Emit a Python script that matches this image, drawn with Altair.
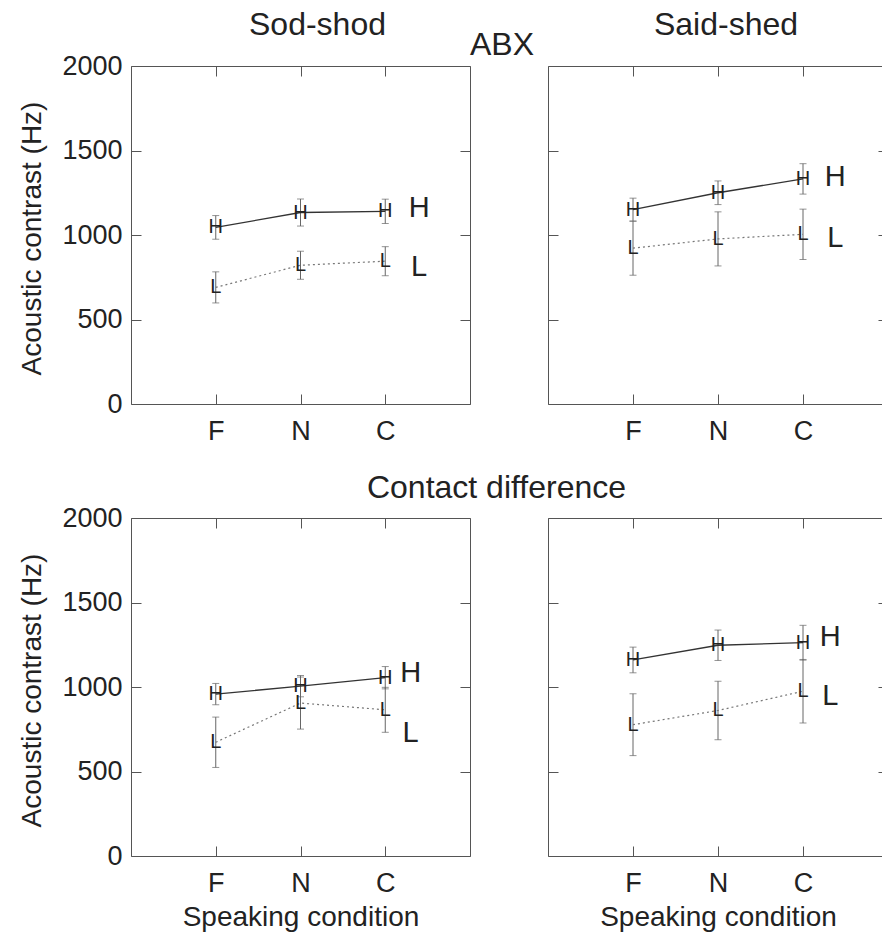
import altair as alt
import pandas as pd

FONT = "Liberation Sans, Arial, Helvetica, sans-serif"

conditions = ["F", "N", "C"]
y_ticks = [0, 500, 1000, 1500, 2000]
panel_titles = ["Sod-shod", "Said-shed"]
row_titles = ["ABX", "Contact difference"]

# ---- ABX, Sod-shod ----
abx_sod_H = [1045, 1133, 1140]
abx_sod_H_err = [70, 80, 72]
abx_sod_L = [690, 821, 845]
abx_sod_L_err = [92, 83, 86]

# ---- ABX, Said-shed ----
abx_said_H = [1150, 1250, 1332]
abx_said_H_err = [68, 70, 90]
abx_said_L = [922, 977, 1004]
abx_said_L_err = [160, 160, 149]

# ---- Contact difference, Sod-shod ----
cd_sod_H = [958, 1005, 1055]
cd_sod_H_err = [63, 63, 66]
cd_sod_L = [673, 905, 865]
cd_sod_L_err = [149, 154, 133]

# ---- Contact difference, Said-shed ----
cd_said_H = [1160, 1247, 1262]
cd_said_H_err = [76, 90, 103]
cd_said_L = [777, 861, 975]
cd_said_L_err = [183, 173, 188]

# series labels at right of each panel (x in condition units, y in Hz)
label_x = [3.40, 3.38, 3.30, 3.32]
label_H_y = [1160, 1341, 1080, 1294]
label_L_y = [813, 985, 730, 944]

PANEL_H = 338
label_expr = f"{conditions}[datum.value - 1]"


def panel(H, Herr, L, Lerr, idx, left, bottom, width, title=None, extra=None):
    rows = []
    for s, vals, errs in (("H", H, Herr), ("L", L, Lerr)):
        for i, c in enumerate(conditions):
            rows.append(dict(cond=c, x=i + 1, series=s, value=vals[i],
                             lo=vals[i] - errs[i], hi=vals[i] + errs[i]))
    df = pd.DataFrame(rows)
    lab = pd.DataFrame({"series": ["H", "L"],
                        "x": [label_x[idx], label_x[idx]],
                        "y": [label_H_y[idx], label_L_y[idx]]})

    xs = alt.Scale(domain=[0, 4], nice=False, zero=False)
    ys = alt.Scale(domain=[0, 2000], nice=False)

    left_axis_kw = dict(orient="left", values=y_ticks, offset=-10, domain=False,
                        tickSize=10, tickColor="#555", grid=False, labelPadding=9,
                        format="d")
    if left:
        left_axis = alt.Axis(**left_axis_kw, title="Acoustic contrast (Hz)",
                             titleX=-101, titleY=172, titleAngle=270,
                             titleBaseline="alphabetic", titleAlign="center")
    else:
        left_axis = alt.Axis(**left_axis_kw, labels=False, title=None)

    bottom_kw = dict(orient="bottom", values=[1, 2, 3], labelExpr=label_expr,
                     offset=-10, domain=False, tickSize=10, tickColor="#555",
                     grid=False, labelPadding=14, labelAngle=0)
    if bottom:
        bottom_axis = alt.Axis(**bottom_kw, title="Speaking condition",
                               titleX=width / 2, titleY=79,
                               titleBaseline="alphabetic", titleAlign="center")
    else:
        bottom_axis = alt.Axis(**bottom_kw, title=None)

    right_axis = alt.Axis(orient="right", values=y_ticks, offset=-10, domain=False,
                          tickSize=10, tickColor="#555", labels=False, grid=False,
                          title=None)
    top_axis = alt.Axis(orient="top", values=[1, 2, 3], offset=-10, domain=False,
                        tickSize=10, tickColor="#555", labels=False, grid=False,
                        title=None)

    base = alt.Chart(df)

    err = base.mark_rule(color="#666", strokeWidth=1).encode(
        x=alt.X("x:Q", scale=xs, axis=bottom_axis),
        y=alt.Y("lo:Q", scale=ys, axis=left_axis),
        y2="hi:Q",
    )
    cap_lo = base.mark_tick(orient="horizontal", size=7, thickness=1, color="#666").encode(
        x=alt.X("x:Q", scale=xs, axis=None),
        y=alt.Y("lo:Q", scale=ys, axis=None),
    )
    cap_hi = base.mark_tick(orient="horizontal", size=7, thickness=1, color="#666").encode(
        x=alt.X("x:Q", scale=xs, axis=None),
        y=alt.Y("hi:Q", scale=ys, axis=None),
    )
    line_H = base.transform_filter("datum.series == 'H'").mark_line(
        color="#333", strokeWidth=1.3).encode(
        x=alt.X("x:Q", scale=xs, axis=top_axis),
        y=alt.Y("value:Q", scale=ys, axis=right_axis),
    )
    line_L = base.transform_filter("datum.series == 'L'").mark_line(
        color="#777", strokeWidth=1.2, strokeDash=[2, 3]).encode(
        x=alt.X("x:Q", scale=xs, axis=None),
        y=alt.Y("value:Q", scale=ys, axis=None),
    )
    markers = base.mark_text(fontSize=20, font=FONT, color="#222",
                             align="center", baseline="middle").encode(
        x=alt.X("x:Q", scale=xs, axis=None),
        y=alt.Y("value:Q", scale=ys, axis=None),
        text="series:N",
    )
    labels = alt.Chart(lab).mark_text(fontSize=29, font=FONT, color="#222",
                                      align="center", baseline="middle").encode(
        x=alt.X("x:Q", scale=xs, axis=None),
        y=alt.Y("y:Q", scale=ys, axis=None),
        text="series:N",
    )
    layers = [err, cap_lo, cap_hi, line_H, line_L, markers, labels]
    if extra is not None:
        layers.append(extra)
    ch = alt.layer(*layers).resolve_axis(x="independent", y="independent")
    props = dict(width=width, height=PANEL_H)
    if title is not None:
        props["title"] = title
    return ch.properties(**props)


# "ABX" row heading; placed from the untitled bottom-right panel so that it
# does not push any panel title around (offsets are relative to that panel)
abx_text = alt.Chart(pd.DataFrame({"t": [row_titles[0]]})).mark_text(
    fontSize=32, font=FONT, color="#222", align="center", baseline="alphabetic"
).encode(x=alt.value(-46), y=alt.value(-463), text="t:N")

tl = panel(abx_sod_H, abx_sod_H_err, abx_sod_L, abx_sod_L_err, 0, True, False, 339,
           title=alt.TitleParams(panel_titles[0], anchor="middle", dx=17, dy=46,
                                 offset=31, baseline="alphabetic"))
tr = panel(abx_said_H, abx_said_H_err, abx_said_L, abx_said_L_err, 1, False, False, 340,
           title=alt.TitleParams(panel_titles[1], anchor="middle", dx=8, dy=32,
                                 offset=31, baseline="alphabetic"))
bl = panel(cd_sod_H, cd_sod_H_err, cd_sod_L, cd_sod_L_err, 2, True, True, 339,
           title=alt.TitleParams(row_titles[1], anchor="middle", dx=196, dy=46,
                                 offset=20, baseline="alphabetic"))
br = panel(cd_said_H, cd_said_H_err, cd_said_L, cd_said_L_err, 3, False, True, 340,
           extra=abx_text)

chart = alt.concat(
    tl, tr, bl, br, columns=2, spacing={"row": 114, "column": 78}, bounds="flush"
).properties(
    autosize=alt.AutoSizeParams(type="none"),
    padding={"left": 131, "top": 66, "right": 751, "bottom": 867},
    background="white",
).configure_view(
    stroke="#555", strokeWidth=1
).configure_axis(
    labelFont=FONT, labelFontSize=27, labelColor="#222",
    titleFont=FONT, titleFontSize=28, titleFontWeight="normal", titleColor="#222",
).configure_title(
    font=FONT, fontSize=32, fontWeight="normal", color="#222"
)

chart.save("out.html", embed_options={"renderer": "svg", "actions": False})
